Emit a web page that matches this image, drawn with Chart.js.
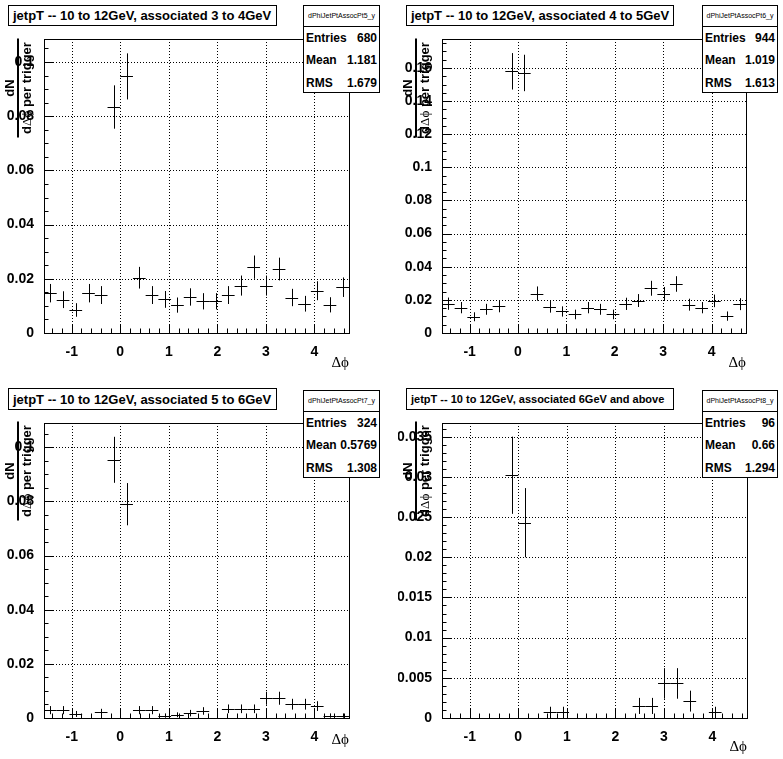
<!DOCTYPE html>
<html>
<head>
<meta charset="utf-8">
<script src="https://cdn.jsdelivr.net/npm/chart.js@4.4.0/dist/chart.umd.min.js"></script>
<style>
  body { margin: 0; background: #fff; }
  #page { position: relative; width: 783px; height: 759px; overflow: hidden; background: #fff; }
  canvas { position: absolute; left: 0; top: 0; }
  .title { position: absolute; box-sizing: border-box; border: 1px solid #000; background: #fff;
           font-family: "Liberation Sans", Arial, sans-serif; font-weight: bold; white-space: nowrap;
           padding-left: 4px; display: flex; align-items: center; z-index: 5; }
  .stats { position: absolute; box-sizing: border-box; border: 1px solid #000; background: #fff;
           font-family: "Liberation Sans", Arial, sans-serif; z-index: 5; }
  .stats .hdr { height: 20px; border-bottom: 1px solid #000; font-size: 7px; text-align: center;
                line-height: 20px; white-space: nowrap; overflow: hidden; }
  .stats .row { height: 22.3px; display: flex; justify-content: space-between; align-items: center;
                padding: 0 2px; font-size: 12px; font-weight: bold; }
  .ytitle { position: absolute; transform: translate(-50%, -50%) rotate(-90deg); display: flex;
            flex-direction: column; align-items: center; font-family: "Liberation Sans", Arial, sans-serif;
            font-weight: bold; font-size: 13px; line-height: 13px; white-space: nowrap; z-index: 4; }
  .ytitle .bar { width: 99px; height: 2px; background: #000; margin: 1px 0; }
  .sym { font-family: "Liberation Serif", "DejaVu Serif", serif; font-weight: normal; }
  .xtitle { position: absolute; font-family: "Liberation Serif", "DejaVu Serif", serif; font-size: 15px;
            line-height: 15px; transform: translate(-100%, -50%); z-index: 4; }
</style>
</head>
<body>
<div id="page"></div>
<script>
// bin centres of the delta-phi histograms (24 bins from -pi/2 to 3pi/2)
const binCenters = [-1.440, -1.178, -0.916, -0.654, -0.393, -0.131, 0.131, 0.393, 0.654, 0.916, 1.178, 1.440,
                    1.702, 1.963, 2.225, 2.487, 2.749, 3.011, 3.272, 3.534, 3.796, 4.058, 4.320, 4.581];
const binHalfWidth = 0.1309;

const assoc3to4 = [0.0147, 0.0123, 0.0085, 0.0147, 0.0140, 0.0834, 0.0947, 0.0204, 0.0140, 0.0124, 0.0103, 0.0133,
                   0.0117, 0.0117, 0.0140, 0.0175, 0.0243, 0.0175, 0.0236, 0.0131, 0.0108, 0.0156, 0.0104, 0.0169];
const err3to4 = [0.0034, 0.0031, 0.0025, 0.0034, 0.0033, 0.0080, 0.0085, 0.0040, 0.0033, 0.0031, 0.0028, 0.0032,
                 0.0030, 0.0030, 0.0033, 0.0037, 0.0043, 0.0037, 0.0042, 0.0032, 0.0029, 0.0035, 0.0028, 0.0036];

const assoc4to5 = [0.0177, 0.0153, 0.0098, 0.0143, 0.0160, 0.1580, 0.1570, 0.0238, 0.0158, 0.0130, 0.0112, 0.0153,
                   0.0143, 0.0112, 0.0176, 0.0196, 0.0270, 0.0236, 0.0296, 0.0171, 0.0153, 0.0194, 0.0102, 0.0174];
const err4to5 = [0.0037, 0.0034, 0.0027, 0.0033, 0.0035, 0.0110, 0.0110, 0.0043, 0.0035, 0.0031, 0.0029, 0.0034,
                 0.0033, 0.0029, 0.0037, 0.0039, 0.0045, 0.0042, 0.0047, 0.0036, 0.0034, 0.0038, 0.0028, 0.0036];

const assoc5to6 = [0.0029, 0.0029, 0.0015, null, 0.0021, 0.0954, 0.0790, 0.0029, 0.0029, 0.0009, 0.0012, 0.0018,
                   0.0026, null, 0.0034, 0.0034, 0.0034, 0.0073, 0.0073, 0.0051, 0.0051, 0.0044, 0.0009, 0.0009];
const err5to6 = [0.0015, 0.0015, 0.0011, null, 0.0013, 0.0085, 0.0078, 0.0015, 0.0015, 0.0008, 0.0009, 0.0012,
                 0.0014, null, 0.0016, 0.0016, 0.0016, 0.0024, 0.0024, 0.0020, 0.0020, 0.0018, 0.0008, 0.0008];

const assoc6up = [null, null, null, null, null, 0.0302, 0.0243, null, 0.0007, 0.0007, null, null,
                  null, null, null, 0.0015, 0.0015, 0.0043, 0.0043, 0.0021, null, 0.0007, null, null];
const err6up = [null, null, null, null, null, 0.0048, 0.0043, null, 0.0007, 0.0007, null, null,
                null, null, null, 0.0010, 0.0010, 0.0019, 0.0019, 0.0013, null, 0.0007, null, null];

const xMajorTicks = [-1, 0, 1, 2, 3, 4];
const yTicksA = [0, 0.02, 0.04, 0.06, 0.08, 0.1];
const yTicksB = [0, 0.02, 0.04, 0.06, 0.08, 0.1, 0.12, 0.14, 0.16];
const yTicksC = [0, 0.005, 0.01, 0.015, 0.02, 0.025, 0.03, 0.035];

const titles = ['jetpT -- 10 to 12GeV, associated 3 to 4GeV', 'jetpT -- 10 to 12GeV, associated 4 to 5GeV',
                'jetpT -- 10 to 12GeV, associated 5 to 6GeV', 'jetpT -- 10 to 12GeV, associated 6GeV and above'];
const histNames = ['dPhiJetPtAssocPt5_y', 'dPhiJetPtAssocPt6_y', 'dPhiJetPtAssocPt7_y', 'dPhiJetPtAssocPt8_y'];
const entries = ['680', '944', '324', '96'];
const means = ['1.181', '1.019', '0.5769', '0.66'];
const rmsValues = ['1.679', '1.613', '1.308', '1.294'];

const W = 783, H = 759;
const font = '"Liberation Sans", Arial, sans-serif';

const panels = [
  { values: assoc3to4, errors: err3to4, yMax: 0.1085, yTicks: yTicksA, yMinor: 0.005,
    frame: { l: 44, t: 39, r: 349, b: 333 }, titleBox: { x: 8, y: 5, w: 269, h: 21, fs: 13 },
    statBox: { x: 303, y: 5, w: 77, h: 88 }, yTitle: { x: 17.5, y: 88 }, xTitle: { x: 349, y: 362 } },
  { values: assoc4to5, errors: err4to5, yMax: 0.1775, yTicks: yTicksB, yMinor: 0.005,
    frame: { l: 442, t: 39, r: 746, b: 333 }, titleBox: { x: 406, y: 5, w: 268, h: 21, fs: 13 },
    statBox: { x: 702, y: 5, w: 76, h: 88 }, yTitle: { x: 415.5, y: 88 }, xTitle: { x: 746, y: 362 } },
  { values: assoc5to6, errors: err5to6, yMax: 0.109, yTicks: yTicksA, yMinor: 0.005,
    frame: { l: 44, t: 423, r: 349, b: 718 }, titleBox: { x: 8, y: 388, w: 269, h: 22, fs: 13 },
    statBox: { x: 303, y: 390, w: 77, h: 88 }, yTitle: { x: 17.5, y: 471 }, xTitle: { x: 349, y: 739 } },
  { values: assoc6up, errors: err6up, yMax: 0.0367, yTicks: yTicksC, yMinor: 0.001,
    frame: { l: 442, t: 423, r: 747, b: 718 }, titleBox: { x: 406, y: 388, w: 268, h: 22, fs: 11 },
    statBox: { x: 702, y: 390, w: 76, h: 88 }, yTitle: { x: 416, y: 471 }, xTitle: { x: 747, y: 746 } }
];

const yAxisWidth = 44, xAxisHeight = 24;
const fmt = v => String(+Number(v).toFixed(4));

// dotted grid, frame and inward ticks like a ROOT pad
const rootFrame = {
  id: 'rootFrame',
  beforeDatasetsDraw(chart, args, opts) {
    const { ctx, chartArea: a, scales: { x, y } } = chart;
    ctx.save();
    ctx.strokeStyle = '#000';
    ctx.lineWidth = 1;
    ctx.setLineDash([1, 2]);
    ctx.beginPath();
    xMajorTicks.forEach(v => {
      const px = Math.round(x.getPixelForValue(v)) + 0.5;
      ctx.moveTo(px, a.top); ctx.lineTo(px, a.bottom);
    });
    opts.yTicks.forEach(v => {
      if (v === 0) return;
      const py = Math.round(y.getPixelForValue(v)) + 0.5;
      ctx.moveTo(a.left, py); ctx.lineTo(a.right, py);
    });
    ctx.stroke();
    ctx.restore();
  },
  afterDatasetsDraw(chart, args, opts) {
    const { ctx, chartArea: a, scales: { x, y } } = chart;
    ctx.save();
    ctx.strokeStyle = '#000';
    ctx.lineWidth = 1;
    ctx.beginPath();
    // x ticks: major every 1, minor every 0.2
    for (let k = -8; k <= 24; k++) {
      const v = k * 0.2;
      if (v < x.min || v > x.max) continue;
      const px = Math.round(x.getPixelForValue(v)) + 0.5;
      const len = (k % 5 === 0) ? 9 : 4.5;
      ctx.moveTo(px, a.bottom); ctx.lineTo(px, a.bottom - len);
    }
    const n = Math.floor(y.max / opts.yMinor + 1e-6);
    for (let k = 0; k <= n; k++) {
      const v = k * opts.yMinor;
      const py = Math.round(y.getPixelForValue(v)) + 0.5;
      const major = opts.yTicks.some(t => Math.abs(t - v) < 1e-9);
      ctx.moveTo(a.left, py); ctx.lineTo(a.left + (major ? 9 : 4.5), py);
    }
    ctx.stroke();
    ctx.strokeRect(Math.round(a.left) + 0.5, Math.round(a.top) + 0.5,
                   Math.round(a.right) - Math.round(a.left), Math.round(a.bottom) - Math.round(a.top));
    ctx.restore();
  }
};

// histogram points drawn as error crosses (bin width x stat error)
const errorCross = {
  id: 'errorCross',
  afterDatasetsDraw(chart) {
    const { ctx, chartArea: a, scales: { x, y } } = chart;
    const pts = chart.data.datasets[0].data;
    ctx.save();
    ctx.beginPath();
    ctx.rect(a.left, a.top, a.right - a.left, a.bottom - a.top);
    ctx.clip();
    ctx.strokeStyle = '#000';
    ctx.lineWidth = 1;
    ctx.beginPath();
    pts.forEach(p => {
      const py = Math.round(y.getPixelForValue(p.y)) + 0.5;
      const px = Math.round(x.getPixelForValue(p.x)) + 0.5;
      ctx.moveTo(x.getPixelForValue(p.x - binHalfWidth), py);
      ctx.lineTo(x.getPixelForValue(p.x + binHalfWidth), py);
      ctx.moveTo(px, y.getPixelForValue(p.y - p.err));
      ctx.lineTo(px, y.getPixelForValue(p.y + p.err));
    });
    ctx.stroke();
    ctx.restore();
  }
};

const page = document.getElementById('page');

panels.forEach((p, i) => {
  const canvas = document.createElement('canvas');
  canvas.width = W; canvas.height = H;
  page.appendChild(canvas);

  const points = [];
  binCenters.forEach((c, k) => {
    if (p.values[k] !== null) points.push({ x: c, y: p.values[k], err: p.errors[k] });
  });

  const f = p.frame;
  new Chart(canvas, {
    type: 'scatter',
    data: { datasets: [{ data: points, pointRadius: 0, showLine: false }] },
    options: {
      responsive: false,
      animation: false,
      events: [],
      layout: { padding: { left: f.l - yAxisWidth, top: f.t, right: W - f.r, bottom: H - f.b - xAxisHeight } },
      plugins: {
        legend: { display: false },
        tooltip: { enabled: false },
        rootFrame: { yTicks: p.yTicks, yMinor: p.yMinor }
      },
      scales: {
        x: {
          type: 'linear', min: -Math.PI / 2, max: 3 * Math.PI / 2,
          grid: { display: false }, border: { display: false },
          afterBuildTicks: s => { s.ticks = xMajorTicks.map(v => ({ value: v })); },
          afterFit: s => { s.height = xAxisHeight; },
          ticks: { padding: 3, color: '#000', autoSkip: false, maxRotation: 0,
                   font: { family: font, size: 14, weight: 'bold' }, callback: v => fmt(v) }
        },
        y: {
          type: 'linear', min: 0, max: p.yMax,
          grid: { display: false }, border: { display: false },
          afterBuildTicks: s => { s.ticks = p.yTicks.map(v => ({ value: v })); },
          afterFit: s => { s.width = yAxisWidth; },
          ticks: { padding: 2, color: '#000', autoSkip: false,
                   font: { family: font, size: 14, weight: 'bold' }, callback: v => fmt(v) }
        }
      }
    },
    plugins: [rootFrame, errorCross]
  });

  // title box
  const t = document.createElement('div');
  t.className = 'title';
  Object.assign(t.style, { left: p.titleBox.x + 'px', top: p.titleBox.y + 'px', width: p.titleBox.w + 'px',
                           height: p.titleBox.h + 'px', fontSize: p.titleBox.fs + 'px' });
  t.textContent = titles[i];
  page.appendChild(t);

  // statistics box
  const s = document.createElement('div');
  s.className = 'stats';
  Object.assign(s.style, { left: p.statBox.x + 'px', top: p.statBox.y + 'px', width: p.statBox.w + 'px',
                           height: p.statBox.h + 'px' });
  s.innerHTML = '<div class="hdr">' + histNames[i] + '</div>' +
    '<div class="row"><span>Entries</span><span>' + entries[i] + '</span></div>' +
    '<div class="row"><span>Mean</span><span>' + means[i] + '</span></div>' +
    '<div class="row"><span>RMS</span><span>' + rmsValues[i] + '</span></div>';
  page.appendChild(s);

  // y axis title: dN / d(delta phi) per trigger
  const yt = document.createElement('div');
  yt.className = 'ytitle';
  Object.assign(yt.style, { left: p.yTitle.x + 'px', top: p.yTitle.y + 'px' });
  yt.innerHTML = '<div>dN</div><div class="bar"></div><div>d<span class="sym">&Delta;&#981;</span> per trigger</div>';
  page.appendChild(yt);

  // x axis title
  const xt = document.createElement('div');
  xt.className = 'xtitle';
  Object.assign(xt.style, { left: p.xTitle.x + 'px', top: p.xTitle.y + 'px' });
  xt.innerHTML = '&Delta;&#981;';
  page.appendChild(xt);
});
</script>
</body>
</html>
